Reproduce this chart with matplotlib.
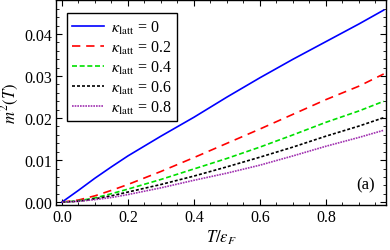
import matplotlib
matplotlib.use("Agg")
import matplotlib.pyplot as plt
from matplotlib.ticker import MultipleLocator

plt.rcParams['font.family'] = 'Liberation Serif'
plt.rcParams['mathtext.fontset'] = 'stix'

# values
T = [0.0, 0.05, 0.1, 0.15, 0.2, 0.3, 0.4, 0.5, 0.6, 0.7, 0.8, 0.9, 0.975]
m2_k00 = [0, 0.0028, 0.0057, 0.0084, 0.0110, 0.0157, 0.0202, 0.0250, 0.0296, 0.0340, 0.0382, 0.0424, 0.0457]
m2_k02 = [0, 0.0005, 0.0015, 0.0028, 0.0042, 0.0073, 0.0106, 0.0140, 0.0174, 0.0209, 0.0244, 0.0276, 0.0305]
m2_k04 = [0, 0.0003, 0.0010, 0.0020, 0.0031, 0.0054, 0.0079, 0.0104, 0.0131, 0.0160, 0.0190, 0.0217, 0.0240]
m2_k06 = [0, 0.0002, 0.0008, 0.0015, 0.0024, 0.0042, 0.0062, 0.0084, 0.0107, 0.0131, 0.0157, 0.0181, 0.0201]
m2_k08 = [0, 0.0002, 0.0006, 0.0011, 0.0018, 0.0034, 0.0052, 0.0069, 0.0088, 0.0110, 0.0133, 0.0154, 0.0171]
kappas = ["0", "0.2", "0.4", "0.6", "0.8"]

fig = plt.figure(figsize=(3.9, 2.51), dpi=100)
ax = fig.add_axes([0.1436, 0.179, 0.8462, 0.817])

series = [m2_k00, m2_k02, m2_k04, m2_k06, m2_k08]
colors = ['#0000ff', '#ff0000', '#00e000', 'black', '#a030b0']
styles = ['-', (0, (5, 3.5)), (0, (3, 1.6)), (0, (1.8, 1.2)), (0, (1, 0.6))]
for ys, c, ls, k in zip(series, colors, styles, kappas):
    ax.plot(T, ys, color=c, ls=ls, lw=1.2,
            label=r'$\kappa_{\mathrm{latt}}$ = ' + k)

ax.set_xlim(-0.018, 0.982)
ax.set_ylim(-0.0007, 0.0481)
ax.xaxis.set_major_locator(MultipleLocator(0.2))
ax.xaxis.set_minor_locator(MultipleLocator(0.05))
ax.yaxis.set_major_locator(MultipleLocator(0.01))
ax.yaxis.set_minor_locator(MultipleLocator(0.002))
ax.xaxis.set_major_formatter(matplotlib.ticker.FormatStrFormatter('%.1f'))
ax.yaxis.set_major_formatter(matplotlib.ticker.FormatStrFormatter('%.2f'))
ax.tick_params(which='both', direction='in', top=True, right=True, labelsize=11.5, pad=3)
ax.tick_params(which='major', length=4, width=0.8)
ax.tick_params(which='minor', length=2, width=0.6)
for s in ax.spines.values():
    s.set_linewidth(1.0)

ax.set_xlabel(r'$T/\varepsilon_F$', fontsize=12, labelpad=2)
ax.set_ylabel(r'$m^2(T)$', fontsize=12, labelpad=2)
ax.text(0.965, 0.1, '(a)', transform=ax.transAxes, ha='right', va='center', fontsize=12)

leg = ax.legend(loc='upper left', bbox_to_anchor=(0.033, 0.937), borderaxespad=0,
                fontsize=11.5, handlelength=2.0, labelspacing=0.18, borderpad=0.35,
                handletextpad=0.4, fancybox=False, framealpha=1)
leg.get_frame().set_edgecolor('black')
leg.get_frame().set_linewidth(1.0)

fig.savefig('out.png', dpi=100)
